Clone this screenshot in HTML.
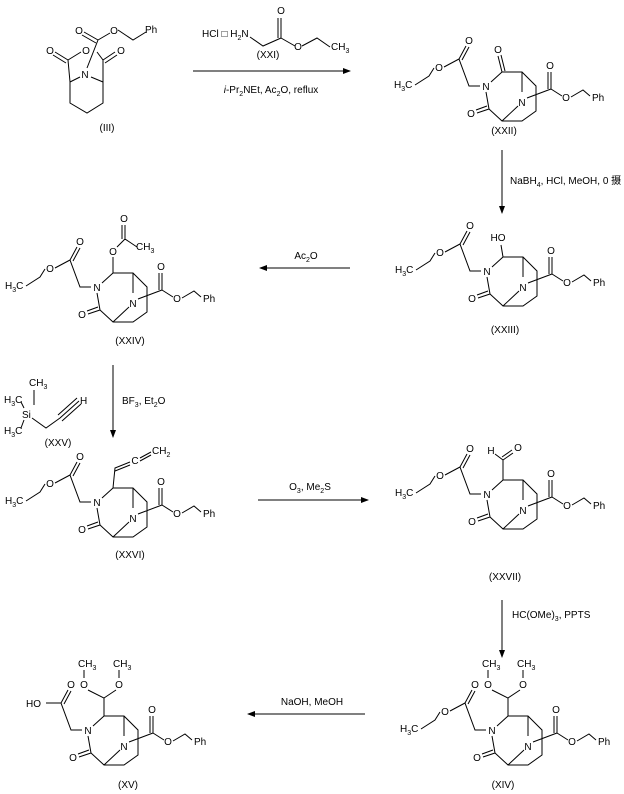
<!DOCTYPE html>
<html><head><meta charset="utf-8"><style>
html,body{margin:0;padding:0;background:#fff;width:624px;height:794px;overflow:hidden}
svg{display:block}
text{font-family:"Liberation Sans","Noto Sans CJK SC",sans-serif;font-size:10px;fill:#000}
.m{text-anchor:middle}
path,line{stroke:#000;stroke-width:1;fill:none}
</style></head><body>
<svg width="624" height="794" viewBox="0 0 624 794" xmlns="http://www.w3.org/2000/svg">
<defs><marker id="ah" markerWidth="8" markerHeight="6" refX="7" refY="3" orient="auto"><path d="M0,0 L8,3 L0,6 z" style="fill:#000;stroke:none"/></marker></defs>

<!-- III -->
<g>
<path d="M70,82 L70,103 L87,113 L103,103 L103,82 M70,82 L80,77 M91,77 L103,82 M70,82 L68,60 M103,82 L103,60 M68,60 L81,52 M103,60 L97,52 M68,60 L55,52 M66,63 L53,55 M103,60 L115,52 M105,63 L117,55 M87,68 L98,40 M98,40 L84,32 M96,43 L82,35 M98,40 L110,33 M118,30 L133,40 L146,32"/>
<text class="m" x="85" y="78">N</text><text class="m" x="50" y="54">O</text><text class="m" x="86" y="54">O</text><text class="m" x="121" y="54">O</text><text class="m" x="79" y="34">O</text><text class="m" x="114" y="34">O</text><text x="145" y="33">Ph</text>
<text class="m" x="107" y="131">(III)</text>
</g>

<!-- XXI reagent -->
<g>
<text x="202" y="37">HCl □ H<tspan font-size="7" dy="3">2</tspan><tspan dy="-3">N</tspan></text>
<path d="M250,37 L263,46 L281,38 L281,18 M278,38 L278,18 M281,38 L295,46 M302,46 L317,38 L330,47"/>
<text class="m" x="281" y="14">O</text><text class="m" x="298" y="50">O</text>
<text x="331" y="50">CH<tspan font-size="7" dy="3">3</tspan></text>
<text class="m" x="268" y="58">(XXI)</text>
<line x1="193" y1="71" x2="350" y2="71" marker-end="url(#ah)"/>
<text class="m" x="271" y="93"><tspan font-style="italic">i</tspan>-Pr<tspan font-size="7" dy="3">2</tspan><tspan dy="-3">NEt, Ac</tspan><tspan font-size="7" dy="3">2</tspan><tspan dy="-3">O, reflux</tspan></text>
</g>

<!-- XXII -->
<g transform="translate(486,86)">
<text class="m" x="0" y="4">N</text>
<path d="M5,-4 L16,-14 L36,-14 L50,0 L50,25 L36,35 L16,35 L3,23 L0,6 M3,23 L-9,27 M1,20 L-10,24 M36,-14 L36,6 M32,20 L16,35 M41,12 L65,3 L65,-14 M62,3 L62,-14 M65,3 L76,10 M85,11 L97,4 L104,10 M-6,0 L-17,0 L-27,-27 L-20,-40 M-24,-26 L-17,-39 M-27,-27 L-42,-19 M-52,-18 L-57,-10 L-71,-1 M16,-14 L12,-30 M19,-15 L15,-31"/>
<text class="m" x="-15" y="31">O</text><text class="m" x="36" y="20">N</text><text class="m" x="64" y="-17">O</text><text class="m" x="80" y="15">O</text><text x="106" y="15">Ph</text><text class="m" x="-17" y="-42">O</text><text class="m" x="-47" y="-15">O</text><text x="-92" y="2">H<tspan font-size="7" dy="3">3</tspan><tspan dy="-3">C</tspan></text>
<text class="m" x="12" y="-33">O</text>
<text class="m" x="18" y="48">(XXII)</text>
</g>

<line x1="502" y1="150" x2="502" y2="213" marker-end="url(#ah)"/>
<text x="510" y="184">NaBH<tspan font-size="7" dy="3">4</tspan><tspan dy="-3">, HCl, MeOH, 0 摄</tspan></text>

<!-- XXIII -->
<g transform="translate(487,271)">
<text class="m" x="0" y="4">N</text>
<path d="M5,-4 L16,-14 L36,-14 L50,0 L50,25 L36,35 L16,35 L3,23 L0,6 M3,23 L-9,27 M1,20 L-10,24 M36,-14 L36,6 M32,20 L16,35 M41,12 L65,3 L65,-14 M62,3 L62,-14 M65,3 L76,10 M85,11 L97,4 L104,10 M-6,0 L-17,0 L-27,-27 L-20,-40 M-24,-26 L-17,-39 M-27,-27 L-42,-19 M-52,-18 L-57,-10 L-71,-1 M16,-14 L14,-26"/>
<text class="m" x="-15" y="31">O</text><text class="m" x="36" y="20">N</text><text class="m" x="64" y="-17">O</text><text class="m" x="80" y="15">O</text><text x="106" y="15">Ph</text><text class="m" x="-17" y="-42">O</text><text class="m" x="-47" y="-15">O</text><text x="-92" y="2">H<tspan font-size="7" dy="3">3</tspan><tspan dy="-3">C</tspan></text>
<text class="m" x="11" y="-30">HO</text>
<text class="m" x="18" y="62">(XXIII)</text>
</g>

<line x1="350" y1="268" x2="260" y2="268" marker-end="url(#ah)"/>
<text class="m" x="306" y="259">Ac<tspan font-size="7" dy="3">2</tspan><tspan dy="-3">O</tspan></text>

<!-- XXIV -->
<g transform="translate(97,287)">
<text class="m" x="0" y="4">N</text>
<path d="M5,-4 L16,-14 L36,-14 L50,0 L50,25 L36,35 L16,35 L3,23 L0,6 M3,23 L-9,27 M1,20 L-10,24 M36,-14 L36,6 M32,20 L16,35 M41,12 L65,3 L65,-14 M62,3 L62,-14 M65,3 L76,10 M85,11 L97,4 L104,10 M-6,0 L-17,0 L-27,-27 L-20,-40 M-24,-26 L-17,-39 M-27,-27 L-42,-19 M-52,-18 L-57,-10 L-71,-1 M16,-14 L16,-30 M20,-40 L28,-48 L28,-62 M25,-48 L25,-62 M28,-48 L40,-40"/>
<text class="m" x="-15" y="31">O</text><text class="m" x="36" y="20">N</text><text class="m" x="64" y="-17">O</text><text class="m" x="80" y="15">O</text><text x="106" y="15">Ph</text><text class="m" x="-17" y="-42">O</text><text class="m" x="-47" y="-15">O</text><text x="-92" y="2">H<tspan font-size="7" dy="3">3</tspan><tspan dy="-3">C</tspan></text>
<text class="m" x="16" y="-32">O</text><text class="m" x="27" y="-65">O</text><text x="39" y="-37">CH<tspan font-size="7" dy="3">3</tspan></text>
<text class="m" x="33" y="57">(XXIV)</text>
</g>

<line x1="113" y1="365" x2="113" y2="437" marker-end="url(#ah)"/>
<text x="122" y="404">BF<tspan font-size="7" dy="3">3</tspan><tspan dy="-3">, Et</tspan><tspan font-size="7" dy="3">2</tspan><tspan dy="-3">O</tspan></text>

<!-- XXV -->
<g>
<text x="29" y="386">CH<tspan font-size="7" dy="3">3</tspan></text>
<text x="4" y="403">H<tspan font-size="7" dy="3">3</tspan><tspan dy="-3">C</tspan></text>
<text x="22" y="418">Si</text>
<text x="4" y="434">H<tspan font-size="7" dy="3">3</tspan><tspan dy="-3">C</tspan></text>
<path d="M34,390 L34,405 M21,402 L24,408 M21,428 L24,420 M32,418 L46,428 L60,418 M60,418 L79,401 M58,415 L77,398 M62,421 L81,404"/>
<text x="80" y="404">H</text>
<text class="m" x="58" y="446">(XXV)</text>
</g>

<!-- XXVI -->
<g transform="translate(97,502)">
<text class="m" x="0" y="4">N</text>
<path d="M5,-4 L16,-14 L36,-14 L50,0 L50,25 L36,35 L16,35 L3,23 L0,6 M3,23 L-9,27 M1,20 L-10,24 M36,-14 L36,6 M32,20 L16,35 M41,12 L65,3 L65,-14 M62,3 L62,-14 M65,3 L76,10 M85,11 L97,4 L104,10 M-6,0 L-17,0 L-27,-27 L-20,-40 M-24,-26 L-17,-39 M-27,-27 L-42,-19 M-52,-18 L-57,-10 L-71,-1 M16,-14 L18,-34 L33,-40 M18,-31 L33,-37 M43,-44 L54,-50 M43,-41 L54,-47"/>
<text class="m" x="-15" y="31">O</text><text class="m" x="36" y="20">N</text><text class="m" x="64" y="-17">O</text><text class="m" x="80" y="15">O</text><text x="106" y="15">Ph</text><text class="m" x="-17" y="-42">O</text><text class="m" x="-47" y="-15">O</text><text x="-92" y="2">H<tspan font-size="7" dy="3">3</tspan><tspan dy="-3">C</tspan></text>
<text class="m" x="38" y="-38">C</text><text x="55" y="-48">CH<tspan font-size="7" dy="3">2</tspan></text>
<text class="m" x="33" y="56">(XXVI)</text>
</g>

<line x1="258" y1="500" x2="368" y2="500" marker-end="url(#ah)"/>
<text class="m" x="310" y="490">O<tspan font-size="7" dy="3">3</tspan><tspan dy="-3">, Me</tspan><tspan font-size="7" dy="3">2</tspan><tspan dy="-3">S</tspan></text>

<!-- XXVII -->
<g transform="translate(487,494)">
<text class="m" x="0" y="4">N</text>
<path d="M5,-4 L16,-14 L36,-14 L50,0 L50,25 L36,35 L16,35 L3,23 L0,6 M3,23 L-9,27 M1,20 L-10,24 M36,-14 L36,6 M32,20 L16,35 M41,12 L65,3 L65,-14 M62,3 L62,-14 M65,3 L76,10 M85,11 L97,4 L104,10 M-6,0 L-17,0 L-27,-27 L-20,-40 M-24,-26 L-17,-39 M-27,-27 L-42,-19 M-52,-18 L-57,-10 L-71,-1 M16,-14 L16,-34 L8,-40 M16,-34 L26,-41 M15,-37 L25,-44"/>
<text class="m" x="-15" y="31">O</text><text class="m" x="36" y="20">N</text><text class="m" x="64" y="-17">O</text><text class="m" x="80" y="15">O</text><text x="106" y="15">Ph</text><text class="m" x="-17" y="-42">O</text><text class="m" x="-47" y="-15">O</text><text x="-92" y="2">H<tspan font-size="7" dy="3">3</tspan><tspan dy="-3">C</tspan></text>
<text class="m" x="4" y="-40">H</text><text class="m" x="31" y="-43">O</text>
<text class="m" x="18" y="86">(XXVII)</text>
</g>

<line x1="502" y1="600" x2="502" y2="657" marker-end="url(#ah)"/>
<text x="512" y="618">HC(OMe)<tspan font-size="7" dy="3">3</tspan><tspan dy="-3">, PPTS</tspan></text>

<!-- XIV -->
<g transform="translate(492,730)">
<text class="m" x="0" y="4">N</text>
<path d="M5,-4 L16,-14 L36,-14 L50,0 L50,25 L36,35 L16,35 L3,23 L0,6 M3,23 L-9,27 M1,20 L-10,24 M36,-14 L36,6 M32,20 L16,35 M41,12 L65,3 L65,-14 M62,3 L62,-14 M65,3 L76,10 M85,11 L97,4 L104,10 M-6,0 L-17,0 L-27,-27 L-20,-40 M-24,-26 L-17,-39 M-27,-27 L-42,-19 M-52,-18 L-57,-10 L-71,-1 M16,-14 L16,-32 L0,-40 M16,-32 L28,-40 M-4,-52 L-4,-60 M31,-52 L31,-60"/>
<text class="m" x="-15" y="31">O</text><text class="m" x="36" y="20">N</text><text class="m" x="64" y="-17">O</text><text class="m" x="80" y="15">O</text><text x="106" y="15">Ph</text><text class="m" x="-17" y="-42">O</text><text class="m" x="-47" y="-15">O</text><text x="-92" y="2">H<tspan font-size="7" dy="3">3</tspan><tspan dy="-3">C</tspan></text>
<text class="m" x="-4" y="-42">O</text><text class="m" x="31" y="-42">O</text>
<text x="-10" y="-63">CH<tspan font-size="7" dy="3">3</tspan></text><text x="25" y="-63">CH<tspan font-size="7" dy="3">3</tspan></text>
</g>
<text class="m" x="503" y="788">(XIV)</text>

<line x1="365" y1="714" x2="248" y2="714" marker-end="url(#ah)"/>
<text class="m" x="312" y="705">NaOH, MeOH</text>

<!-- XV -->
<g transform="translate(88,730)">
<text class="m" x="0" y="4">N</text>
<path d="M5,-4 L16,-14 L36,-14 L50,0 L50,25 L36,35 L16,35 L3,23 L0,6 M3,23 L-9,27 M1,20 L-10,24 M36,-14 L36,6 M32,20 L16,35 M41,12 L65,3 L65,-14 M62,3 L62,-14 M65,3 L76,10 M85,11 L97,4 L104,10 M-6,0 L-17,0 L-27,-27 L-20,-40 M-24,-26 L-17,-39 M-27,-27 L-42,-27 M16,-14 L16,-32 L0,-40 M16,-32 L28,-40 M-4,-52 L-4,-60 M31,-52 L31,-60"/>
<text class="m" x="-15" y="31">O</text><text class="m" x="36" y="20">N</text><text class="m" x="64" y="-17">O</text><text class="m" x="80" y="15">O</text><text x="106" y="15">Ph</text><text class="m" x="-17" y="-42">O</text>
<text x="-62" y="-23">HO</text>
<text class="m" x="-4" y="-42">O</text><text class="m" x="31" y="-42">O</text>
<text x="-10" y="-63">CH<tspan font-size="7" dy="3">3</tspan></text><text x="25" y="-63">CH<tspan font-size="7" dy="3">3</tspan></text>
</g>
<text class="m" x="128" y="788">(XV)</text>
</svg>
</body></html>
